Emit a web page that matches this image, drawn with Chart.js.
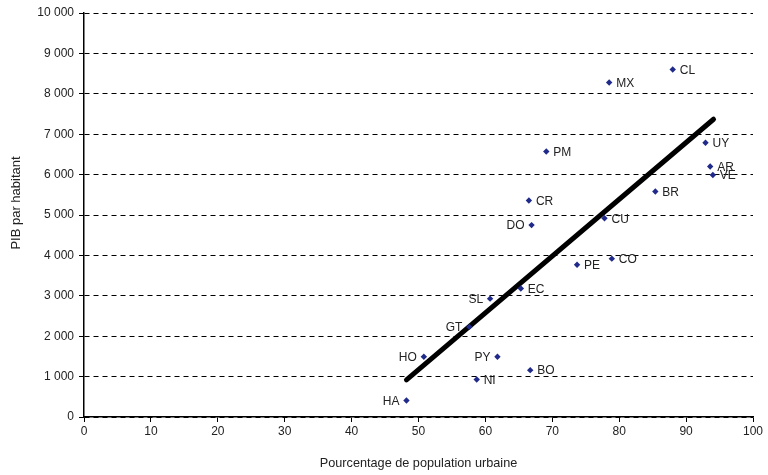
<!DOCTYPE html>
<html>
<head>
<meta charset="utf-8">
<script src="https://cdn.jsdelivr.net/npm/chart.js@4"></script>
<style>
  html, body { margin: 0; padding: 0; background: #fff; }
  #wrap { width: 768px; height: 475px; }
</style>
</head>
<body>
<div id="wrap"><canvas id="scatterChart"></canvas></div>
<script>
// Pays (codes) et valeurs
const countries = ['CL', 'MX', 'UY', 'PM', 'AR', 'VE', 'BR', 'CR', 'CU', 'DO', 'CO', 'PE', 'EC', 'SL', 'GT', 'HO', 'PY', 'BO', 'NI', 'HA'];
const urbanPct = [88.0, 78.5, 92.9, 69.1, 93.6, 94.0, 85.4, 66.5, 77.8, 66.9, 78.9, 73.7, 65.3, 60.7, 57.6, 50.8, 61.8, 66.7, 58.7, 48.2];
const gdpPerCapita = [8600, 8280, 6790, 6570, 6200, 5990, 5580, 5360, 4920, 4750, 3920, 3770, 3180, 2930, 2230, 1490, 1490, 1160, 930, 410];

// Droite de tendance (extrémités)
const trendX = [48.2, 94.1];
const trendY = [920, 7370];

// Graduations
const xTicks = [0, 10, 20, 30, 40, 50, 60, 70, 80, 90, 100];
const yTicks = [0, 1000, 2000, 3000, 4000, 5000, 6000, 7000, 8000, 9000, 10000];

// Codes dont l'étiquette est à gauche du point
const leftLabels = ['DO', 'SL', 'GT', 'HO', 'PY', 'HA'];

const FONT = 'Arial, "Liberation Sans", sans-serif';
const ctx = document.getElementById('scatterChart').getContext('2d');

// Plugin : codes pays à côté des points + titre de l'axe vertical
const pointLabels = {
    id: 'pointLabels',
    afterDatasetsDraw(chart) {
        const meta = chart.getDatasetMeta(1);
        const c = chart.ctx;
        c.save();
        c.font = '12px ' + FONT;
        c.fillStyle = '#222';
        c.textBaseline = 'middle';
        meta.data.forEach((pt, i) => {
            const code = countries[i];
            if (leftLabels.includes(code)) {
                c.textAlign = 'right';
                c.fillText(code, pt.x - 7, pt.y + 1);
            } else {
                c.textAlign = 'left';
                c.fillText(code, pt.x + 7, pt.y + 1);
            }
        });
        // titre axe Y (un peu au-dessus du centre, comme l'original)
        c.translate(16, 203);
        c.rotate(-Math.PI / 2);
        c.textAlign = 'center';
        c.font = '13px ' + FONT;
        c.fillText('PIB par habitant', 0, 0);
        c.restore();
    }
};

const scatterChart = new Chart(ctx, {
    type: 'scatter',
    data: {
        datasets: [{
            type: 'line',
            label: 'Tendance',
            data: trendX.map((x, i) => ({ x: x, y: trendY[i] })),
            borderColor: '#000',
            borderWidth: 5,
            borderCapStyle: 'round',
            pointRadius: 0,
            fill: false,
            order: 2
        }, {
            label: 'Pays',
            data: urbanPct.map((x, i) => ({ x: x, y: gdpPerCapita[i] })),
            pointStyle: 'rectRot',
            pointRadius: 3.2,
            backgroundColor: '#1F2A8A',
            borderColor: '#1F2A8A',
            borderWidth: 0,
            order: 1
        }]
    },
    options: {
        responsive: true,
        maintainAspectRatio: false,
        animation: false,
        layout: { padding: { top: 13, right: 15, left: 0, bottom: 0 } },
        plugins: {
            legend: { display: false },
            tooltip: { enabled: false }
        },
        scales: {
            x: {
                type: 'linear',
                min: 0,
                max: 100,
                afterBuildTicks: scale => { scale.ticks = xTicks.map(v => ({ value: v })); },
                afterFit: scale => { scale.height = 58; },
                grid: { drawOnChartArea: false, drawTicks: true, tickLength: 5, color: '#000' },
                border: { display: true, color: '#000', width: 1.5 },
                ticks: { color: '#222', font: { size: 12, family: FONT }, padding: 2, maxRotation: 0 },
                title: {
                    display: true,
                    text: 'Pourcentage de population urbaine',
                    color: '#222',
                    font: { size: 12.7, family: FONT },
                    padding: { top: 0, bottom: 4 }
                }
            },
            y: {
                type: 'linear',
                min: 0,
                max: 10000,
                afterBuildTicks: scale => { scale.ticks = yTicks.map(v => ({ value: v })); },
                afterFit: scale => { scale.width = 84; },
                grid: { color: '#000', lineWidth: 1, drawTicks: true, tickLength: 5, tickColor: '#000' },
                border: { display: true, color: '#000', width: 1.5, dash: [5, 4] },
                ticks: {
                    color: '#222',
                    font: { size: 12, family: FONT },
                    padding: 5,
                    callback: v => v.toLocaleString('fr-FR').replace(/\s/g, ' ')
                },
                title: { display: false }
            }
        }
    },
    plugins: [pointLabels]
});
</script>
</body>
</html>
